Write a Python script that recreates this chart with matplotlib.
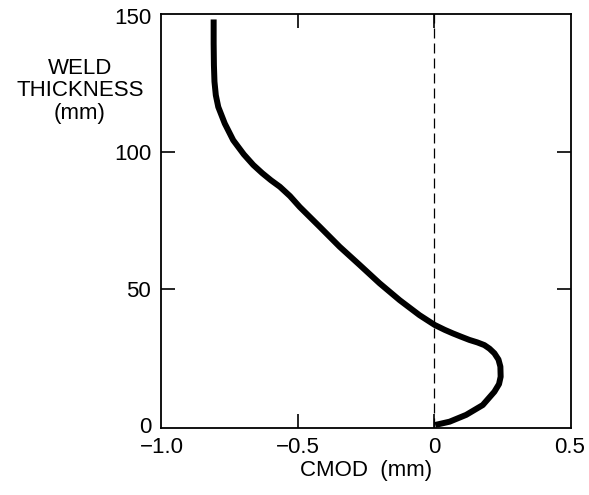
import matplotlib
matplotlib.use("Agg")
import matplotlib.pyplot as plt

plt.rcParams['font.family'] = ['Liberation Sans', 'DejaVu Sans']

# CMOD profile through the weld thickness
cmod_mm = [0.005, 0.058, 0.119, 0.180, 0.223, 0.240, 0.246, 0.245, 0.238,
           0.223, 0.205, 0.186, 0.160, 0.131, 0.100, 0.070, 0.040, 0.003,
           -0.053, -0.126, -0.200, -0.273, -0.347, -0.420, -0.494, -0.530,
           -0.567, -0.600, -0.632, -0.665, -0.700, -0.739, -0.770, -0.794,
           -0.803, -0.808, -0.810, -0.811, -0.811]
thickness_mm = [0.0, 1.2, 3.7, 7.3, 12.2, 15.0, 17.7, 21.4, 24.0,
                26.3, 28.0, 29.3, 30.3, 31.2, 32.4, 33.6, 34.9, 36.7,
                40.3, 45.8, 52.0, 58.7, 65.4, 72.7, 80.0, 84.0,
                87.4, 89.8, 92.4, 95.4, 99.3, 104.5, 110.6, 116.7,
                121.0, 126.0, 132.0, 140.0, 148.8]

x_ticks = [-1.0, -0.5, 0.0, 0.5]
x_tick_labels = ['\u22121.0', '\u22120.5', '0', '0.5']
y_ticks = [0, 50, 100, 150]
y_tick_labels = ['0', '50', '100', '150']

fig = plt.figure(figsize=(5.89, 4.95), dpi=100)
ax = fig.add_axes([0.2733, 0.136, 0.6961, 0.8357])

ax.plot(cmod_mm, thickness_mm, color='black', lw=4.3,
        solid_capstyle='butt', solid_joinstyle='round')
ax.axvline(0, color='black', lw=0.9, ls=(0, (8, 4)))

ax.set_xlim(-1.005, 0.505)
ax.set_ylim(-1.0, 150.8)
ax.set_xticks(x_ticks)
ax.set_xticklabels(x_tick_labels)
ax.set_yticks(y_ticks)
ax.set_yticklabels(y_tick_labels)

ax.tick_params(direction='in', length=10, width=1.2, labelsize=16,
               top=True, right=True, pad=7)
# tick marks at the frame edges would sit on the spines
for axis, edge_idx in ((ax.xaxis, (0, 3)), (ax.yaxis, (0, 3))):
    ticks = axis.get_major_ticks()
    for i in edge_idx:
        ticks[i].tick1line.set_visible(False)
        ticks[i].tick2line.set_visible(False)
for s in ax.spines.values():
    s.set_linewidth(1.3)

ax.set_xlabel('CMOD  (mm)', fontsize=16, labelpad=1)
fig.text(80 / 589, 1 - 91 / 495, 'WELD\nTHICKNESS\n(mm)', fontsize=16,
         ha='center', va='center', linespacing=1.1)

fig.savefig('out.png', dpi=100)
